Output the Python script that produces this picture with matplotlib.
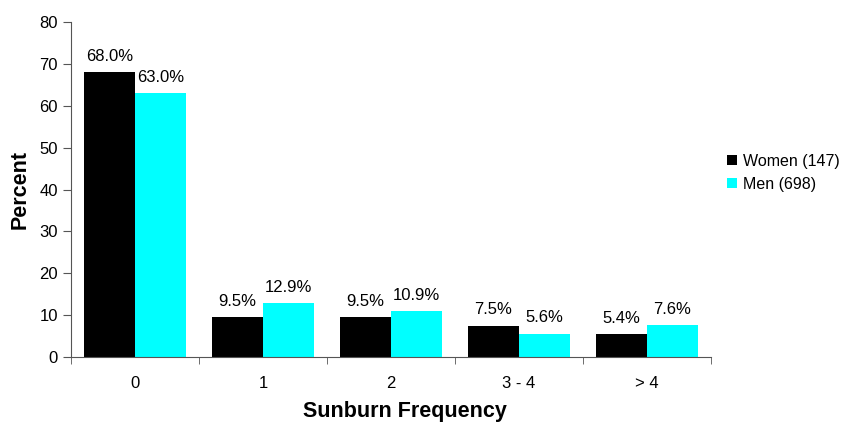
import matplotlib.pyplot as plt
import numpy as np

plt.rcParams['font.family'] = ['Liberation Sans', 'DejaVu Sans']

categories = ['0', '1', '2', '3 - 4', '> 4']
women = [68.0, 9.5, 9.5, 7.5, 5.4]
men = [63.0, 12.9, 10.9, 5.6, 7.6]

fig = plt.figure(figsize=(8.45, 4.26), dpi=100)
ax = fig.add_axes([0.084, 0.162, 0.757, 0.786])

x = np.arange(len(categories))
w = 0.4
b1 = ax.bar(x - w / 2, women, w, color='black', label='Women (147)')
b2 = ax.bar(x + w / 2, men, w, color='#00ffff', label='Men (698)')

for bars, vals in ((b1, women), (b2, men)):
    for r, v in zip(bars, vals):
        ax.text(r.get_x() + r.get_width() / 2, v + 2.0, '%.1f%%' % v,
                ha='center', va='bottom', fontsize=12)

ax.set_xlim(-0.5, len(categories) - 0.5)
ax.set_ylim(0, 80)
ax.set_yticks(range(0, 81, 10))
ax.set_xticks(x)
ax.set_xticklabels(categories)
ax.set_xticks(np.arange(-0.5, len(categories), 1), minor=True)
ax.tick_params(axis='x', which='major', length=0, pad=14, labelsize=12)
ax.tick_params(axis='x', which='minor', length=5, direction='out', color='#555555')
ax.tick_params(axis='y', length=6, direction='out', labelsize=12, color='#555555')

for s in ('top', 'right'):
    ax.spines[s].set_visible(False)
ax.spines['left'].set_color('#555555')
ax.spines['bottom'].set_color('#555555')

ax.set_xlabel('Sunburn Frequency', fontsize=15.5, fontweight='bold')
ax.xaxis.set_label_coords(0.522, -0.13)
ax.set_ylabel('Percent', fontsize=15.5, fontweight='bold', labelpad=6)

ax.legend(loc='center left', bbox_to_anchor=(1.026, 0.55), frameon=False,
          fontsize=11.5, handlelength=0.6, handleheight=0.6, handletextpad=0.4,
          labelspacing=0.5, borderpad=0, borderaxespad=0)

fig.savefig('out.png', dpi=100)
